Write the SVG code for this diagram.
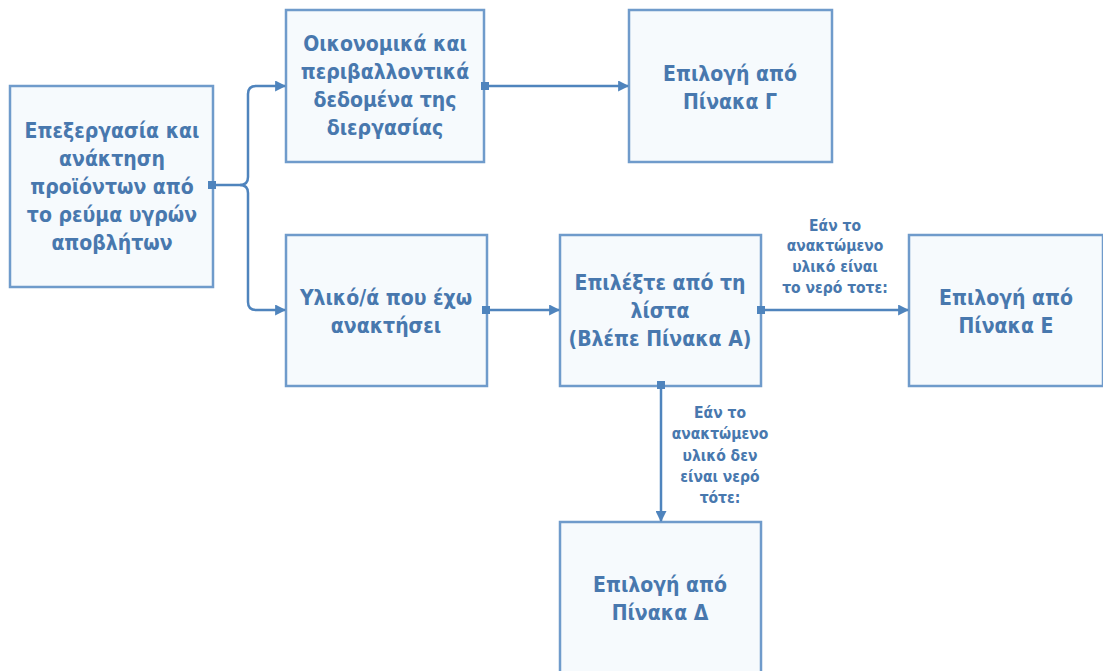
<svg xmlns="http://www.w3.org/2000/svg" width="1103" height="671" viewBox="0 0 1103 671">
  <defs>
    <style>
      .box { fill: #f6fafd; stroke: #6f9bcb; stroke-width: 2.5; }
      .t { font-family: "DejaVu Sans Condensed", "DejaVu Sans", sans-serif; font-weight: bold; font-size: 21px; fill: #4878ae; text-anchor: middle; }
      .lbl { font-family: "DejaVu Sans Condensed", "DejaVu Sans", sans-serif; font-weight: bold; font-size: 15.5px; fill: #4878ae; text-anchor: middle; }
      .wire { fill: none; stroke: #4f84bd; stroke-width: 2.5; }
      .dot { fill: #4f84bd; }
    </style>
    <marker id="arrow" viewBox="0 0 10 10" refX="9" refY="5" markerWidth="4.4" markerHeight="4.4" orient="auto" markerUnits="strokeWidth">
      <path d="M0,0 L10,5 L0,10 z" fill="#4f84bd"/>
    </marker>
  </defs>

  <g id="node-process">
    <rect class="box" x="10" y="86" width="203" height="201"/>
    <text class="t" x="112" y="138">Επεξεργασία και</text>
    <text class="t" x="112" y="166">ανάκτηση</text>
    <text class="t" x="112" y="194">προϊόντων από</text>
    <text class="t" x="112" y="222">το ρεύμα υγρών</text>
    <text class="t" x="112" y="250">αποβλήτων</text>
  </g>

  <g id="node-data">
    <rect class="box" x="286" y="10" width="198" height="152"/>
    <text class="t" x="385" y="51">Οικονομικά και</text>
    <text class="t" x="385" y="79">περιβαλλοντικά</text>
    <text class="t" x="385" y="107">δεδομένα της</text>
    <text class="t" x="385" y="135">διεργασίας</text>
  </g>

  <g id="node-table-g">
    <rect class="box" x="629" y="10" width="203" height="152"/>
    <text class="t" x="730" y="81">Επιλογή από</text>
    <text class="t" x="730" y="109">Πίνακα Γ</text>
  </g>

  <g id="node-material">
    <rect class="box" x="286" y="235" width="201" height="151"/>
    <text class="t" x="386" y="305">Υλικό/ά που έχω</text>
    <text class="t" x="386" y="333">ανακτήσει</text>
  </g>

  <g id="node-list">
    <rect class="box" x="560" y="235" width="201" height="151"/>
    <text class="t" x="660" y="290">Επιλέξτε από τη</text>
    <text class="t" x="660" y="318">λίστα</text>
    <text class="t" x="660" y="346">(Βλέπε Πίνακα Α)</text>
  </g>

  <g id="node-table-e">
    <rect class="box" x="909" y="235" width="194" height="151"/>
    <text class="t" x="1006" y="305">Επιλογή από</text>
    <text class="t" x="1006" y="333">Πίνακα Ε</text>
  </g>

  <g id="node-table-d">
    <rect class="box" x="560" y="522" width="201" height="160"/>
    <text class="t" x="660" y="592">Επιλογή από</text>
    <text class="t" x="660" y="620">Πίνακα Δ</text>
  </g>

  <!-- connectors drawn above the boxes so the start squares stay visible -->
  <g id="connectors">
    <path class="wire" d="M213,185 H240 Q248,185 248,177 V94 Q248,86 256,86 H285" marker-end="url(#arrow)"/>
    <path class="wire" d="M240,185 Q248,185 248,193 V302 Q248,310 256,310 H285" marker-end="url(#arrow)"/>
    <rect class="dot" x="208" y="181" width="8" height="8"/>
    <path class="wire" d="M484,86 H628" marker-end="url(#arrow)"/>
    <rect class="dot" x="481" y="82" width="8" height="8"/>
    <path class="wire" d="M487,310 H559" marker-end="url(#arrow)"/>
    <rect class="dot" x="482" y="306" width="8" height="8"/>
    <path class="wire" d="M761,310 H908" marker-end="url(#arrow)"/>
    <rect class="dot" x="757" y="306" width="8" height="8"/>
    <path class="wire" d="M661,386 V521" marker-end="url(#arrow)"/>
    <rect class="dot" x="657" y="381" width="8" height="8"/>
  </g>

  <g id="edge-labels">
    <text class="lbl" x="835" y="231">Εάν το</text>
    <text class="lbl" x="835" y="251">ανακτώμενο</text>
    <text class="lbl" x="835" y="272">υλικό είναι</text>
    <text class="lbl" x="835" y="293">το νερό τοτε:</text>
    <text class="lbl" x="720" y="418">Εάν το</text>
    <text class="lbl" x="720" y="439">ανακτώμενο</text>
    <text class="lbl" x="720" y="461">υλικό δεν</text>
    <text class="lbl" x="720" y="482">είναι νερό</text>
    <text class="lbl" x="720" y="503">τότε:</text>
  </g>
</svg>
